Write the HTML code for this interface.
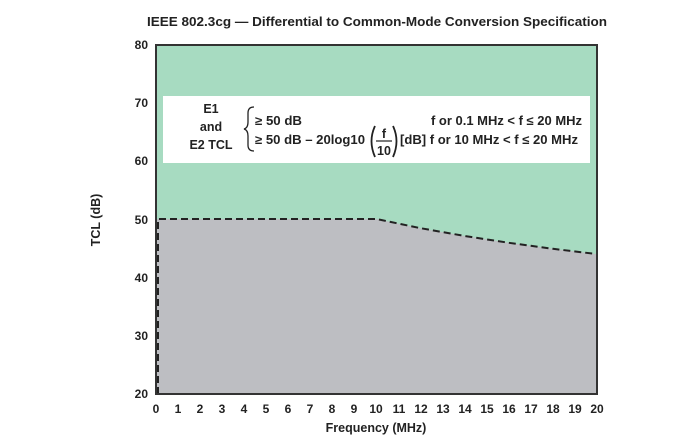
<!DOCTYPE html>
<html><head><style>body{margin:0;background:#fff}svg{display:block}text{font-family:"Liberation Sans",sans-serif;font-weight:bold;fill:#222}</style></head>
<body>
<svg width="687" height="443" viewBox="0 0 687 443" xmlns="http://www.w3.org/2000/svg">
<text x="147" y="26" font-size="13" textLength="460" lengthAdjust="spacingAndGlyphs">IEEE 802.3cg — Differential to Common-Mode Conversion Specification</text>
<rect x="156" y="45" width="441" height="349" fill="#a7dbc1"/>
<path d="M156,394 L156,219 L376.5,219 L420.6,228.2 L464.7,236 L508.8,242.8 L552.9,248.8 L597,254.1 L597,394 Z" fill="#bdbec2"/>
<path d="M158,394 L158,219 L376.5,219 L420.6,228.2 L464.7,236 L508.8,242.8 L552.9,248.8 L597,254.1" fill="none" stroke="#222" stroke-width="2" stroke-dasharray="7,4"/>
<rect x="156" y="45" width="441" height="349" fill="none" stroke="#333" stroke-width="2"/>
<rect x="163" y="96" width="427" height="67" fill="#fff"/>
<g font-size="12.5">
<text x="211" y="113" text-anchor="middle">E1</text>
<text x="211" y="131" text-anchor="middle">and</text>
<text x="211" y="149" text-anchor="middle">E2 TCL</text>
<path d="M254,107 Q248,107 248,113 L248,122 Q248,128 244,129 Q248,130 248,136 L248,145 Q248,151 254,151" fill="none" stroke="#222" stroke-width="1.3"/>
<text x="255" y="125" textLength="47" lengthAdjust="spacingAndGlyphs">≥ 50 dB</text>
<text x="255" y="144" textLength="110" lengthAdjust="spacingAndGlyphs">≥ 50 dB – 20log10</text>
<path d="M375,126 Q368,141 375,157" fill="none" stroke="#222" stroke-width="1.8"/>
<path d="M393,126 Q400,141 393,157" fill="none" stroke="#222" stroke-width="1.8"/>
<text x="384" y="138" text-anchor="middle">f</text>
<line x1="376" y1="141" x2="392" y2="141" stroke="#222" stroke-width="1.2"/>
<text x="384" y="155" text-anchor="middle">10</text>
<text x="400" y="144" textLength="178" lengthAdjust="spacingAndGlyphs">[dB] f or 10 MHz &lt; f ≤ 20 MHz</text>
<text x="431" y="125" textLength="151" lengthAdjust="spacingAndGlyphs">f or 0.1 MHz &lt; f ≤ 20 MHz</text>
</g>
<g font-size="12" text-anchor="end">
<text x="148" y="49">80</text><text x="148" y="107">70</text><text x="148" y="165">60</text><text x="148" y="224">50</text><text x="148" y="282">40</text><text x="148" y="340">30</text><text x="148" y="398">20</text>
</g>
<g font-size="12" text-anchor="middle">
<text x="156" y="413">0</text><text x="178" y="413">1</text><text x="200" y="413">2</text><text x="222" y="413">3</text><text x="244" y="413">4</text><text x="266" y="413">5</text><text x="288" y="413">6</text><text x="310" y="413">7</text><text x="332" y="413">8</text><text x="354" y="413">9</text><text x="376" y="413">10</text><text x="399" y="413">11</text><text x="421" y="413">12</text><text x="443" y="413">13</text><text x="465" y="413">14</text><text x="487" y="413">15</text><text x="509" y="413">16</text><text x="531" y="413">17</text><text x="553" y="413">18</text><text x="575" y="413">19</text><text x="597" y="413">20</text>
</g>
<text x="376" y="432" font-size="12.5" text-anchor="middle">Frequency (MHz)</text>
<text transform="translate(100,220) rotate(-90)" font-size="12.5" text-anchor="middle">TCL (dB)</text>
</svg>
</body></html>
